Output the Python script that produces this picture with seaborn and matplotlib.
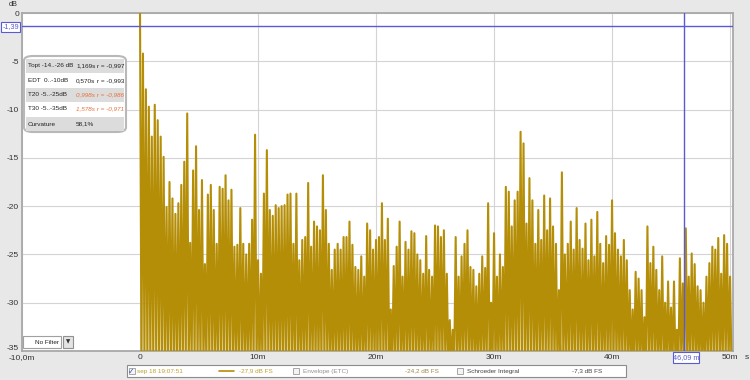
import numpy as np
import pandas as pd
import matplotlib
matplotlib.use("Agg")
import matplotlib.pyplot as plt
import matplotlib.transforms as mtransforms
import seaborn as sns
from matplotlib.patches import Rectangle, FancyBboxPatch

sns.set_theme(style="white")
plt.rcParams['font.family'] = ['Liberation Sans', 'DejaVu Sans']

# ---------------- data ----------------
# peak level (dB FS) of the impulse response in each 0.25 m slot, from 0 m to 50 m
peak_db = [
    0.0, -4.2, -7.9, -9.7, -12.8, -9.5, -11.1, -12.8, -14.9, -20.1,
    -17.5, -19.2, -20.8, -19.7, -17.8, -15.4, -10.4, -23.8, -16.3, -13.8,
    -20.4, -17.3, -26.0, -18.8, -17.8, -20.4, -23.9, -18.0, -18.2, -16.8,
    -19.4, -18.3, -24.2, -24.0, -20.2, -23.9, -25.0, -23.9, -21.4, -12.6,
    -25.6, -27.0, -18.7, -14.2, -20.4, -21.0, -19.9, -20.2, -20.0, -19.9,
    -18.8, -18.7, -23.9, -18.7, -25.6, -23.5, -23.2, -17.6, -24.2, -21.6,
    -22.1, -22.5, -16.8, -20.4, -23.9, -26.6, -24.5, -23.9, -24.5, -23.2,
    -23.2, -21.6, -24.0, -26.3, -26.6, -25.2, -27.3, -21.8, -22.5, -24.5,
    -23.5, -23.2, -19.7, -23.5, -21.3, -30.7, -26.2, -24.2, -21.6, -27.3,
    -23.7, -24.5, -22.6, -22.8, -25.0, -25.6, -27.0, -23.1, -26.6, -27.3,
    -22.0, -22.1, -23.2, -22.5, -27.0, -31.8, -32.8, -23.2, -27.3, -25.2,
    -23.9, -22.5, -26.3, -26.6, -28.3, -27.0, -25.2, -26.4, -19.7, -30.0,
    -22.8, -27.3, -25.0, -26.3, -18.0, -18.5, -22.1, -19.4, -18.5, -12.3,
    -13.5, -21.8, -17.1, -19.4, -23.9, -20.4, -23.5, -18.9, -22.5, -19.2,
    -22.1, -23.9, -28.7, -16.5, -25.0, -23.9, -21.6, -24.5, -20.2, -23.5,
    -24.4, -21.8, -25.6, -21.4, -25.2, -20.6, -23.9, -25.9, -23.1, -24.0,
    -19.4, -22.8, -24.5, -25.2, -23.5, -25.6, -28.7, -30.7, -26.8, -27.5,
    -28.7, -31.5, -22.1, -25.9, -24.2, -26.6, -28.7, -25.2, -30.0, -27.8,
    -30.5, -27.8, -32.8, -25.4, -28.0, -22.3, -27.3, -24.9, -26.0, -28.3,
    -28.7, -30.0, -27.3, -25.9, -24.2, -24.5, -23.3, -27.0, -23.0, -23.9,
    -27.3,
]
sample_step_m = 0.25          # spacing of the slots (sampling of the trace)
zero_crossing_db = -36.5      # level between peaks (zero crossings, just below the axis)

cursor_db = -1.39
cursor_m = 46.09

y_ticks = [0, -5, -10, -15, -20, -25, -30, -35]
y_tick_labels = ["0", "-5", "-10", "-15", "-20", "-25", "-30", "-35"]
x_ticks = [-10, 0, 10, 20, 30, 40, 50]
x_tick_labels = ["-10,0m", "0", "10m", "20m", "30m", "40m", "50m"]

rt_names = ["Topt -14..-26 dB", "EDT  0..-10dB", "T20 -5..-25dB", "T30 -5..-35dB", "Curvature"]
rt_values = ["1,169s", "0,570s", "0,998s", "1,578s", "58,1%"]
rt_r = ["r = -0,997", "r = -0,993", "r = -0,986", "r = -0,971", ""]

legend_name = "sep 18 19:07:51"
legend_levels = ["-27,9 dB FS", "-24,2 dB FS", "-7,3 dB FS"]
legend_others = ["Envelope (ETC)", "Schroeder Integral"]

# ---------------- build the trace ----------------
peaks = np.asarray(peak_db)
dist = np.arange(len(peaks)) * sample_step_m
xs = np.column_stack([dist, dist + sample_step_m / 2]).ravel()
ys = np.column_stack([peaks, np.full(len(peaks), zero_crossing_db)]).ravel()
df = pd.DataFrame({"distance": xs, "level": ys})

W, H = 750, 380
def fx(px):
    return px / W
def fy(py):
    return 1 - py / H

MUSTARD = "#B58E08"
BLUE = "#5A5AD8"
ORANGE = "#E8703A"
FS = 4.6

fig = plt.figure(figsize=(7.5, 3.8), dpi=100, facecolor="#E8E8E8")
ax = fig.add_axes([fx(22), fy(351), fx(733) - fx(22), fy(13) - fy(351)])
ax.set_facecolor("white")

sns.lineplot(data=df, x="distance", y="level", sort=False, estimator=None,
             color=MUSTARD, lw=1.5, ax=ax, zorder=3)

ax.set_xlim(-10, 50.25)
ax.set_ylim(-35, 0)
ax.set_xticks(x_ticks)
ax.set_xticklabels(x_tick_labels)
ax.set_yticks(y_ticks)
ax.set_yticklabels(y_tick_labels)
ax.tick_params(axis="both", length=0, labelsize=6.0, colors="#333333")
ax.tick_params(axis="y", pad=2)
ax.tick_params(axis="x", pad=2.5)
ax.set_xlabel("")
ax.set_ylabel("")
ax.grid(True, color="#D4D4D4", lw=0.8, zorder=0)
for s in ax.spines.values():
    s.set_color("#A8A8A8")
    s.set_linewidth(1.3)
# lift the bottom y label a little so it clears the first x label
lbl = ax.get_yticklabels()[-1]
lbl.set_transform(lbl.get_transform() + mtransforms.ScaledTranslation(0, 3.0 / 100, fig.dpi_scale_trans))

ax.axhline(cursor_db, color=BLUE, lw=1.0, zorder=4)
ax.axvline(cursor_m, color=BLUE, lw=1.0, zorder=4)

# unit labels
fig.text(fx(13), fy(4), "dB", fontsize=5.3, ha="center", va="center", color="#333333")
fig.text(fx(745), fy(357.5), "s", fontsize=6.0, ha="left", va="center", color="#333333")

# cursor labels
fig.patches.append(Rectangle((fx(1), fy(32)), fx(20) - fx(1), fy(22) - fy(32),
                             transform=fig.transFigure, facecolor="white",
                             edgecolor=BLUE, lw=0.8))
fig.text(fx(10.5), fy(27), "-1,39", fontsize=5.2, ha="center", va="center", color=BLUE)
fig.patches.append(Rectangle((fx(673), fy(363)), fx(699) - fx(673), fy(352) - fy(363),
                             transform=fig.transFigure, facecolor="white",
                             edgecolor=BLUE, lw=0.8, zorder=5))
fig.text(fx(686), fy(357.5), "46,09 m", fontsize=5.2, ha="center", va="center",
         color=BLUE, zorder=6)

# info box
fig.patches.append(FancyBboxPatch((fx(24), fy(132)), fx(126) - fx(24), fy(56) - fy(132),
                                  boxstyle="round,pad=0,rounding_size=0.012",
                                  transform=fig.transFigure, facecolor="white",
                                  edgecolor="#B8B8B8", lw=1.5, zorder=5))
row_top = [59, 74, 88, 102, 117]
row_h = 14
for i in range(5):
    yc = row_top[i] + row_h / 2
    if i % 2 == 0:
        fig.patches.append(Rectangle((fx(26), fy(row_top[i] + row_h)), fx(124) - fx(26),
                                     fy(row_top[i]) - fy(row_top[i] + row_h),
                                     transform=fig.transFigure, facecolor="#DCDCDC",
                                     edgecolor="none", zorder=6))
    col = ORANGE if i in (2, 3) else "#222222"
    fig.text(fx(28), fy(yc), rt_names[i], fontsize=FS, ha="left", va="center",
             color="#222222", zorder=7)
    if i in (2, 3):
        fig.text(fx(76), fy(yc), rt_values[i] + " " + rt_r[i], fontsize=FS, ha="left",
                 va="center", color=col, style="italic", zorder=7)
    else:
        fig.text(fx(76), fy(yc), rt_values[i], fontsize=FS, ha="left", va="center",
                 color=col, zorder=7)
        if rt_r[i]:
            fig.text(fx(97), fy(yc), rt_r[i], fontsize=FS, ha="left", va="center",
                     color=col, zorder=7)

# "No Filter" control
fig.patches.append(Rectangle((fx(23), fy(348)), fx(61) - fx(23), fy(336) - fy(348),
                             transform=fig.transFigure, facecolor="white",
                             edgecolor="#A0A0A0", lw=0.8, zorder=5))
fig.text(fx(59), fy(342), "No Filter", fontsize=FS, ha="right", va="center",
         color="#222222", zorder=6)
fig.patches.append(Rectangle((fx(63), fy(348)), fx(73) - fx(63), fy(336) - fy(348),
                             transform=fig.transFigure, facecolor="#E4E4E4",
                             edgecolor="#909090", lw=0.8, zorder=5))
fig.text(fx(68), fy(342), "\u25BC", fontsize=4.0, ha="center", va="center",
         color="#333333", zorder=6, family="DejaVu Sans")

# bottom legend bar
fig.patches.append(Rectangle((fx(127), fy(377)), fx(626) - fx(127), fy(365) - fy(377),
                             transform=fig.transFigure, facecolor="white",
                             edgecolor="#8C8C8C", lw=0.8))
ly = 371
for cx, checked in [(131.5, True), (296, False), (460, False)]:
    fig.patches.append(Rectangle((fx(cx - 3), fy(ly + 3.2)), fx(6), fy(ly - 3.2) - fy(ly + 3.2),
                                 transform=fig.transFigure, facecolor="#F4F4F4",
                                 edgecolor="#9A9A9A", lw=0.6))
    if checked:
        fig.text(fx(cx), fy(ly), "\u2713", fontsize=5.5, ha="center", va="center",
                 color="#3050C0", family="DejaVu Sans")
fig.text(fx(137), fy(ly), legend_name, fontsize=FS, ha="left", va="center", color="#C0A030")
fig.lines.append(plt.Line2D([fx(219), fx(234)], [fy(ly), fy(ly)], transform=fig.transFigure,
                            color=MUSTARD, lw=1.2))
fig.text(fx(239), fy(ly), legend_levels[0], fontsize=FS, ha="left", va="center", color="#C0A030")
fig.text(fx(303), fy(ly), legend_others[0], fontsize=FS, ha="left", va="center", color="#909090")
fig.text(fx(405), fy(ly), legend_levels[1], fontsize=FS, ha="left", va="center", color="#A08850")
fig.text(fx(467), fy(ly), legend_others[1], fontsize=FS, ha="left", va="center", color="#444444")
fig.text(fx(572), fy(ly), legend_levels[2], fontsize=FS, ha="left", va="center", color="#444444")

fig.savefig("out.png", dpi=100, facecolor=fig.get_facecolor())
